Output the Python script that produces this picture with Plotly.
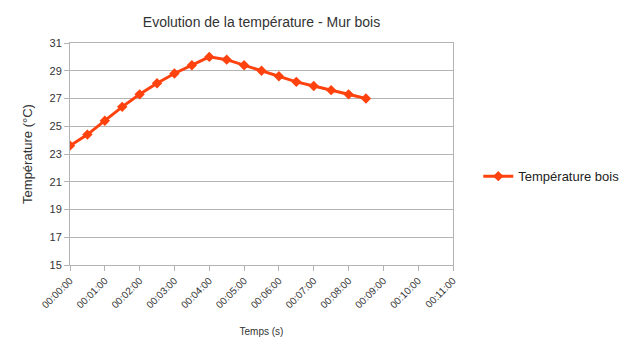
import plotly.graph_objects as go

# Data
time_s = [0, 30, 60, 90, 120, 150, 180, 210, 240, 270, 300, 330, 360, 390, 420, 450, 480, 510]
temp_bois = [23.6, 24.4, 25.4, 26.4, 27.3, 28.1, 28.8, 29.4, 30.0, 29.8, 29.4, 29.0, 28.6, 28.2, 27.9, 27.6, 27.3, 27.0]
x_tick_vals = [0, 60, 120, 180, 240, 300, 360, 420, 480, 540, 600, 660]
x_tick_text = ["00:00:00", "00:01:00", "00:02:00", "00:03:00", "00:04:00", "00:05:00",
               "00:06:00", "00:07:00", "00:08:00", "00:09:00", "00:10:00", "00:11:00"]
y_tick_vals = [15, 17, 19, 21, 23, 25, 27, 29, 31]

color = "#ff420e"
grid = "#b3b3b3"
font = "Liberation Sans, Arial, sans-serif"

fig = go.Figure()
fig.add_trace(go.Scatter(
    x=time_s, y=temp_bois, mode="lines+markers", name="Température bois",
    line=dict(color=color, width=3),
    marker=dict(symbol="diamond", size=8, color=color),
))

fig.update_layout(
    width=630, height=354,
    margin=dict(l=70, r=177, t=43, b=89, autoexpand=False),
    paper_bgcolor="white", plot_bgcolor="white",
    font=dict(family=font, color="#333333"),
    title=dict(text="Evolution de la température - Mur bois", x=0.5, xref="paper",
               y=1 - 22 / 354, yanchor="middle", xanchor="center",
               font=dict(size=14, family=font, color="#333333")),
    showlegend=True,
    legend=dict(x=1.066, y=0.40, xanchor="left", yanchor="middle",
                font=dict(size=13, family=font, color="#222222"),
                bgcolor="rgba(0,0,0,0)", itemwidth=30),
)
fig.update_xaxes(
    range=[0, 660], tickvals=x_tick_vals, ticktext=x_tick_text, tickangle=-45,
    showgrid=False, zeroline=False,
    showline=True, linecolor=grid, linewidth=1, mirror=True,
    ticks="outside", ticklen=5, tickcolor=grid,
    tickfont=dict(size=10, family=font, color="#333333"),
    title=dict(text="Temps (s)", font=dict(size=10, family=font, color="#333333"), standoff=18),
)
fig.update_yaxes(
    range=[15, 31], tickvals=y_tick_vals,
    showgrid=True, gridcolor=grid, gridwidth=1, zeroline=False,
    showline=True, linecolor=grid, linewidth=1, mirror=True,
    ticks="outside", ticklen=5, tickcolor=grid,
    tickfont=dict(size=11, family=font, color="#333333"),
    title=dict(text="Température (°C)", font=dict(size=13, family=font, color="#333333"), standoff=13),
)

fig.write_html("out.html")
